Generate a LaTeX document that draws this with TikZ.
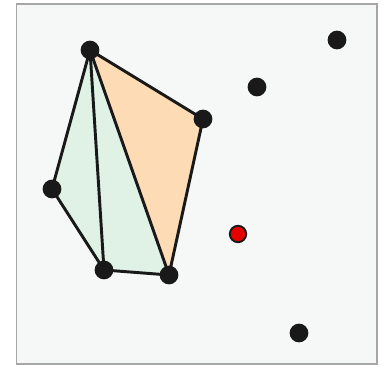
\documentclass[tikz,border=0pt]{standalone}
\usepackage{tikz}
\definecolor{bgpanel}{RGB}{246,248,247}
\definecolor{lowtri}{RGB}{224,241,230}
\definecolor{newtri}{RGB}{253,219,181}

\begin{document}
\begin{tikzpicture}[x=0.03cm,y=-0.03cm,
    pt/.style={circle,fill=black!90,inner sep=0pt,minimum size=16pt},
    query/.style={circle,fill=red!90!black,draw=black!90,line width=1.6pt,inner sep=0pt,minimum size=14pt},
    edge/.style={line width=2.5pt,black!90,line join=round}]
  \useasboundingbox (0,0) rectangle (386,366);
  \filldraw[fill=bgpanel,draw=gray!70,line width=1.2pt] (16.5,4) rectangle (377,364);
  % hull vertices
  \coordinate (a) at (90,50);
  \coordinate (b) at (203,119);
  \coordinate (c) at (52,189);
  \coordinate (d) at (104,270);
  \coordinate (e) at (169,275);
  % triangles
  \fill[lowtri] (a) -- (c) -- (d) -- (e) -- cycle;
  \fill[newtri] (a) -- (e) -- (b) -- cycle;
  \draw[edge] (a) -- (c) -- (d) -- (e) -- (b) -- cycle;
  \draw[edge] (a) -- (d);
  \draw[edge] (a) -- (e);
  \foreach \p in {a,b,c,d,e}
    \node[pt] (n\p) at (\p) {};
  % remaining points
  \node[pt] (p1) at (337,40) {};
  \node[pt] (p2) at (257,87) {};
  \node[pt] (p3) at (299,333) {};
  \node[query] (q) at (238,234) {};
\end{tikzpicture}
\end{document}
